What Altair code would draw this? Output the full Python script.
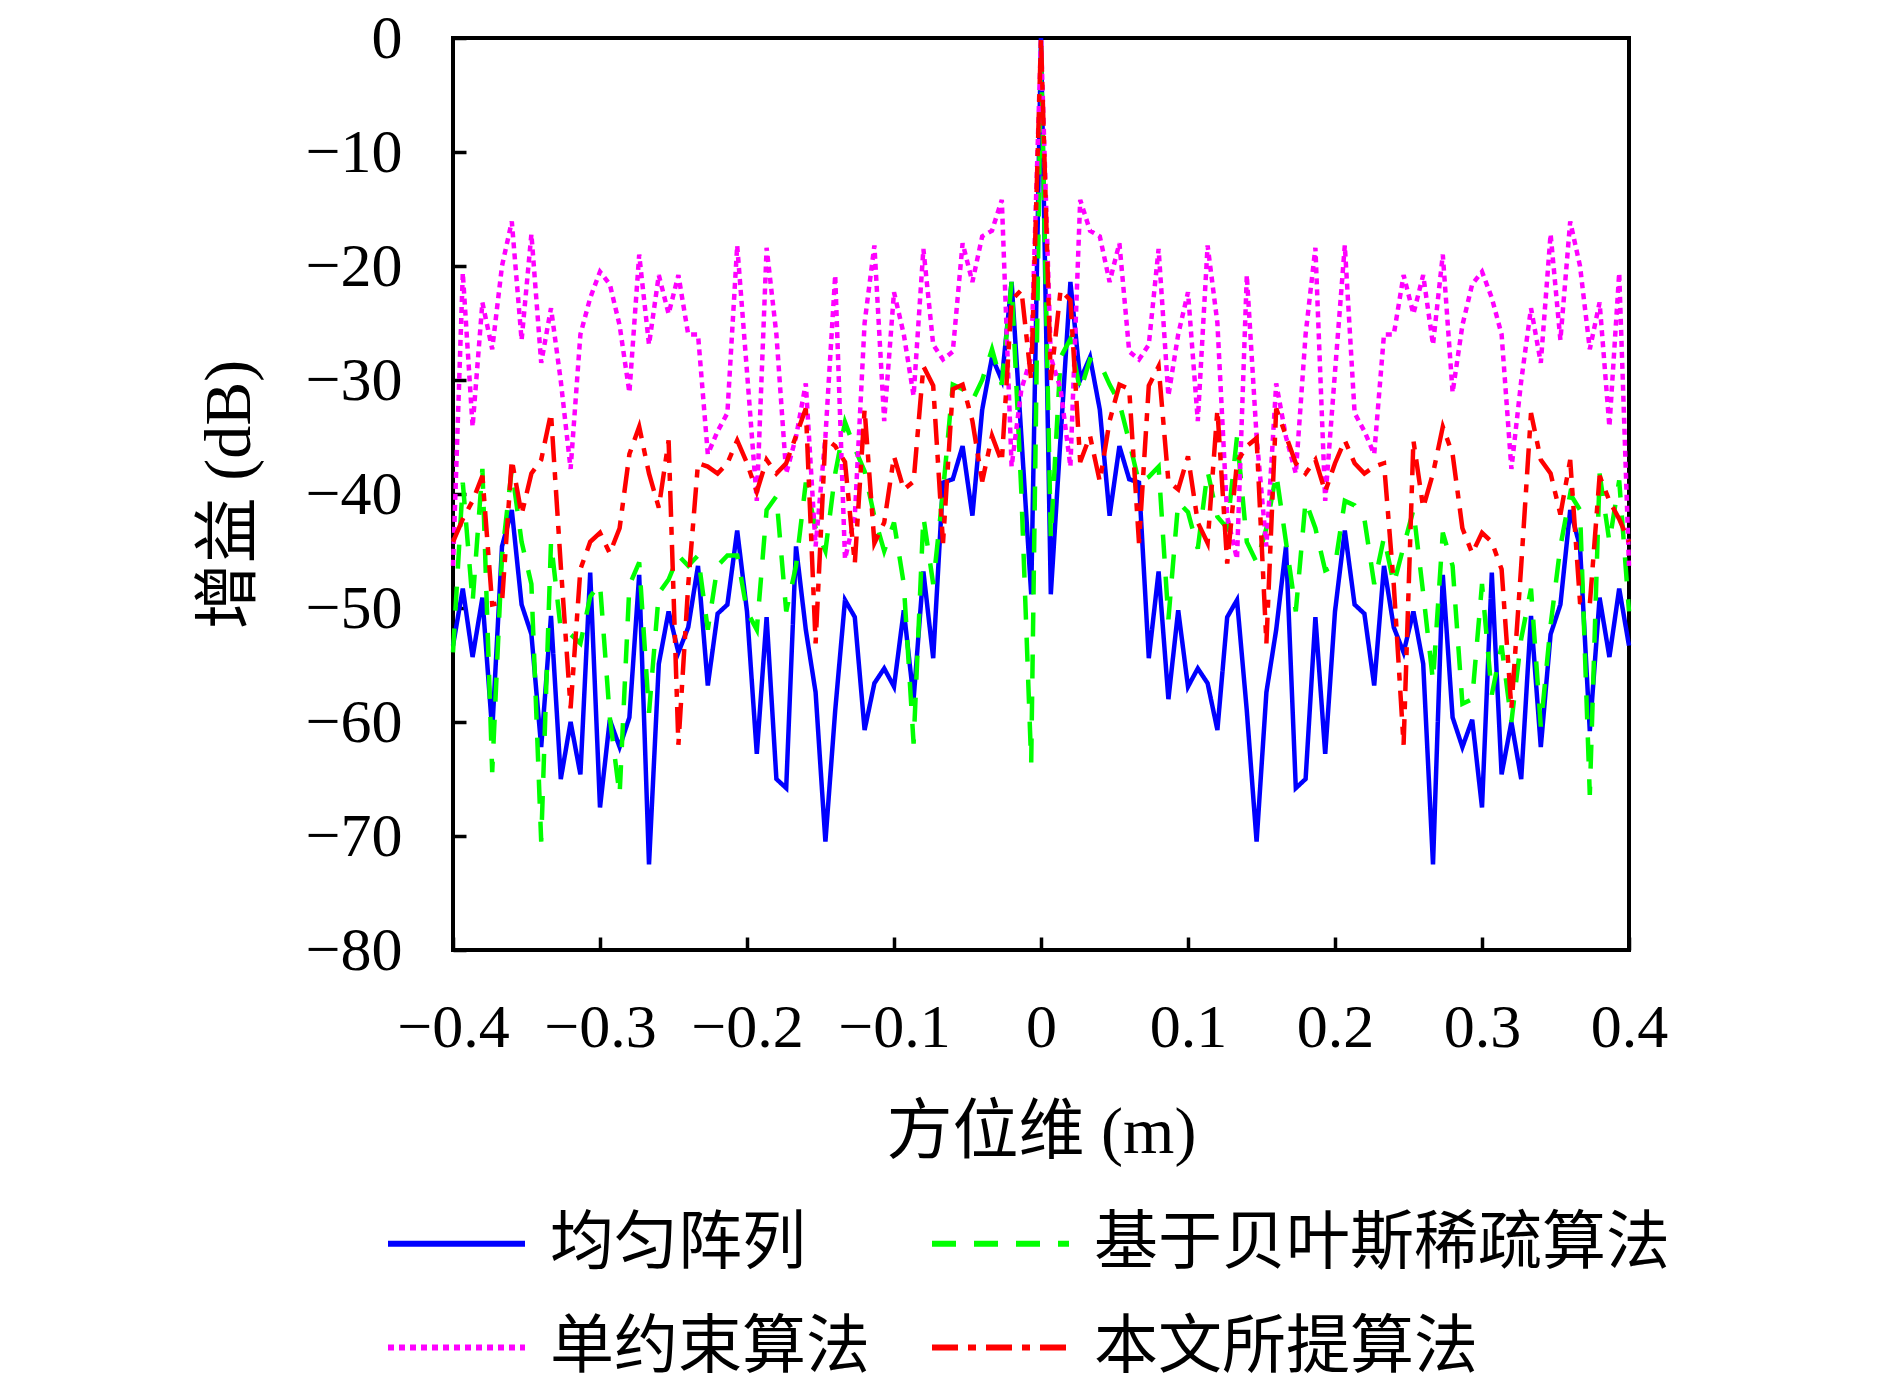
import altair as alt
import pandas as pd

# sample grid of the azimuth axis: 121 points from -0.4 m to 0.4 m
x_start = -0.4
x_step = 0.8 / 120

series_names = ["均匀阵列", "基于贝叶斯稀疏算法", "单约束算法", "本文所提算法"]
series_colors = ["#0000ff", "#00ff00", "#ff00ff", "#ff0000"]
series_dashes = [[1, 0], [24, 18], [6, 5], [26, 10, 8, 10]]

x_ticks = [-0.4, -0.3, -0.2, -0.1, 0, 0.1, 0.2, 0.3, 0.4]
y_ticks = [0, -10, -20, -30, -40, -50, -60, -70, -80]

# 均匀阵列 (blue, solid)
uniform = [
    -53.3, -48.3, -54.3, -49.1, -60.8, -44.6, -41.4, -49.7, -52.3, -62.2,
    -50.7, -65, -60, -64.6, -46.9, -67.5, -59.8, -62.2, -59.6, -47.1,
    -72.5, -54.9, -50.3, -53.9, -51.7, -46.3, -56.8, -50.5, -49.7, -43.2,
    -50.3, -62.8, -50.8, -65, -65.8, -44.6, -51.9, -57.4, -70.5, -59,
    -49.3, -50.8, -60.7, -56.6, -55.3, -56.9, -50.2, -58, -46.8, -54.4,
    -39, -38.7, -35.8, -41.9, -32.6, -28, -30, -21.4, -35, -48.8,
    0,
    -48.8, -35, -21.4, -30, -28, -32.6, -41.9, -35.8, -38.7, -39,
    -54.4, -46.8, -58, -50.2, -56.9, -55.3, -56.6, -60.7, -50.8, -49.3,
    -59, -70.5, -57.4, -51.9, -44.6, -65.8, -65, -50.8, -62.8, -50.3,
    -43.2, -49.7, -50.5, -56.8, -46.3, -51.7, -53.9, -50.3, -54.9, -72.5,
    -47.1, -59.6, -62.2, -59.8, -67.5, -46.9, -64.6, -60, -65, -50.7,
    -62.2, -52.3, -49.7, -41.4, -44.6, -60.8, -49.1, -54.3, -48.3, -53.3,
]

# 基于贝叶斯稀疏算法 (green, dashed)
bayes = [
    -53.9, -39, -49.5, -37.8, -64.4, -45.4, -37.8, -44.2, -47.9, -70.5,
    -44.2, -51.9, -52.3, -53.1, -49, -47.9, -59.6, -66.4, -48, -46,
    -59.2, -48.7, -47.5, -45.4, -46.3, -45.4, -51.9, -46.3, -45.4, -45.4,
    -50.3, -51.9, -41.4, -40.2, -50.3, -46.3, -39, -43, -45, -38.2,
    -33.7, -36, -38, -42, -45, -42.5, -47.9, -61.9, -42, -47.9,
    -39.8, -30.4, -30.8, -31.8, -30, -27.3, -30.4, -21.4, -40, -63.6,
    -1,
    -43.9, -28, -26.4, -31, -28.2, -28.5, -30.4, -32, -35.4, -39,
    -38.5, -37.6, -51, -40.7, -41.6, -44.8, -38, -42, -43, -35,
    -44.2, -46, -43, -38.2, -44.2, -50.3, -40.6, -43, -46.7, -46.3,
    -40.6, -41, -42.2, -47.9, -43.8, -47.9, -44.6, -41.4, -48.7, -56.4,
    -43.4, -46.3, -58.4, -58, -47.9, -57.6, -53.3, -60, -52.7, -48.3,
    -60.4, -51.5, -44.6, -40, -41.4, -66.4, -38.2, -44.2, -38.8, -50.3,
]

# 单约束算法 (magenta, dotted)
single = [
    -46.3, -20.6, -34.1, -23.2, -27.3, -20, -16.1, -26.5, -17.2, -28.5,
    -23.7, -30.1, -37.8, -26, -22.8, -20.5, -21.6, -25.2, -31.1, -19,
    -26.9, -20.8, -24.2, -20.8, -26, -26, -36.5, -34.5, -32.9, -18.2,
    -29.3, -40.6, -18.4, -26, -38.2, -35, -30.3, -44.6, -35, -20.8,
    -45.7, -42, -25, -18.2, -33.6, -22.3, -26, -31.4, -18.5, -26.9,
    -28.2, -27.5, -18, -21.4, -17.4, -16.9, -14.2, -37.6, -30.8, -28,
    0,
    -28, -30.8, -37.6, -14.2, -16.9, -17.4, -21.4, -18, -27.5, -28.2,
    -26.9, -18.5, -31.4, -26, -22.3, -33.6, -18.2, -25, -42, -45.7,
    -20.8, -35, -44.6, -30.3, -35, -38.2, -26, -18.4, -40.6, -29.3,
    -18.2, -32.9, -34.5, -36.5, -26, -26, -20.8, -24.2, -20.8, -26.9,
    -19, -31.1, -25.2, -21.6, -20.5, -22.8, -26, -37.8, -30.1, -23.7,
    -28.5, -17.2, -26.5, -16.1, -20, -27.3, -23.2, -34.1, -20.6, -46.3,
]

# 本文所提算法 (red, dash-dot)
proposed = [
    -44.2, -42.2, -40.6, -38.4, -49.7, -49.5, -37, -41.8, -38.2, -37,
    -32.9, -46.3, -58.8, -46.6, -44.2, -43.4, -45.2, -43, -36.5, -34.1,
    -38.2, -41.2, -35.3, -62, -48, -37.3, -37.6, -38.2, -37.3, -35.3,
    -37.3, -39.8, -37, -38.2, -37.3, -34.9, -32.5, -53.1, -35.1, -35.8,
    -37.2, -46.1, -32.6, -44.3, -42.5, -36.7, -39.6, -38.9, -28.8, -30.5,
    -44.3, -30.8, -30.4, -33.6, -38.9, -34.9, -37.2, -23, -22.1, -30,
    0,
    -30, -22.1, -23, -37.2, -34.9, -38.9, -33.6, -30.4, -30.8, -44.3,
    -30.5, -28.8, -38.9, -39.6, -36.7, -42.5, -44.3, -32.6, -46.1, -37.2,
    -35.8, -35.1, -53.1, -32.5, -34.9, -37.3, -38.2, -37, -39.8, -37.3,
    -35.3, -37.3, -38.2, -37.6, -37.3, -48, -62, -35.3, -41.2, -38.2,
    -34.1, -36.5, -43, -45.2, -43.4, -44.2, -46.6, -58.8, -46.3, -32.9,
    -37, -38.2, -41.8, -37, -49.5, -49.7, -38.4, -40.6, -42.2, -44.2,
]

rows = []
for name, values in zip(series_names, [uniform, bayes, single, proposed]):
    for k, v in enumerate(values):
        rows.append({"x": round(x_start + k * x_step, 6), "gain": v, "series": name})
df = pd.DataFrame(rows)

serif = "Liberation Serif"
cjk = "Liberation Serif, Noto Sans CJK SC"

legend = alt.Legend(
    title=None,
    orient="none",
    legendX=-68,
    legendY=1134,
    columns=2,
    direction="horizontal",
    symbolType="stroke",
    symbolSize=137 * 137,
    symbolStrokeWidth=6,
    labelFont=cjk,
    labelFontSize=64,
    labelColor="black",
    labelOffset=22,
    labelLimit=0,
    columnPadding=50,
    rowPadding=0,
    padding=0,
)

chart = (
    alt.Chart(df)
    .mark_line(strokeWidth=4.5)
    .encode(
        x=alt.X(
            "x:Q",
            scale=alt.Scale(domain=[-0.4, 0.4], nice=False),
            axis=alt.Axis(
                values=x_ticks,
                format=".1~f",
                domain=False,
                grid=False,
                offset=-13,
                tickSize=13,
                tickWidth=3.5,
                tickColor="black",
                labelFont=serif,
                labelFontSize=62,
                labelColor="black",
                labelPadding=47,
                labelFlush=False,
                title="方位维 (m)",
                titleFont=cjk,
                titleFontSize=66,
                titleFontWeight="normal",
                titleColor="black",
                titlePadding=42,
            ),
        ),
        y=alt.Y(
            "gain:Q",
            scale=alt.Scale(domain=[-80, 0], nice=False),
            axis=alt.Axis(
                values=y_ticks,
                format="d",
                domain=False,
                grid=False,
                offset=-13,
                tickSize=13,
                tickWidth=3.5,
                tickColor="black",
                labelFont=serif,
                labelFontSize=62,
                labelColor="black",
                labelPadding=51,
                title="增益 (dB)",
                titleFont=cjk,
                titleFontSize=66,
                titleFontWeight="normal",
                titleColor="black",
                titlePadding=42,
            ),
        ),
        color=alt.Color(
            "series:N",
            scale=alt.Scale(domain=series_names, range=series_colors),
            legend=legend,
        ),
        strokeDash=alt.StrokeDash(
            "series:N",
            scale=alt.Scale(domain=series_names, range=series_dashes),
            legend=legend,
        ),
    )
    .properties(
        width=1176,
        height=912,
        autosize=alt.AutoSizeParams(type="none"),
        padding={"left": 445, "top": 30, "right": 253, "bottom": 440},
    )
    .configure_view(stroke="black", strokeWidth=4)
)

chart.save("out.html", embed_options={"renderer": "svg", "actions": False})
